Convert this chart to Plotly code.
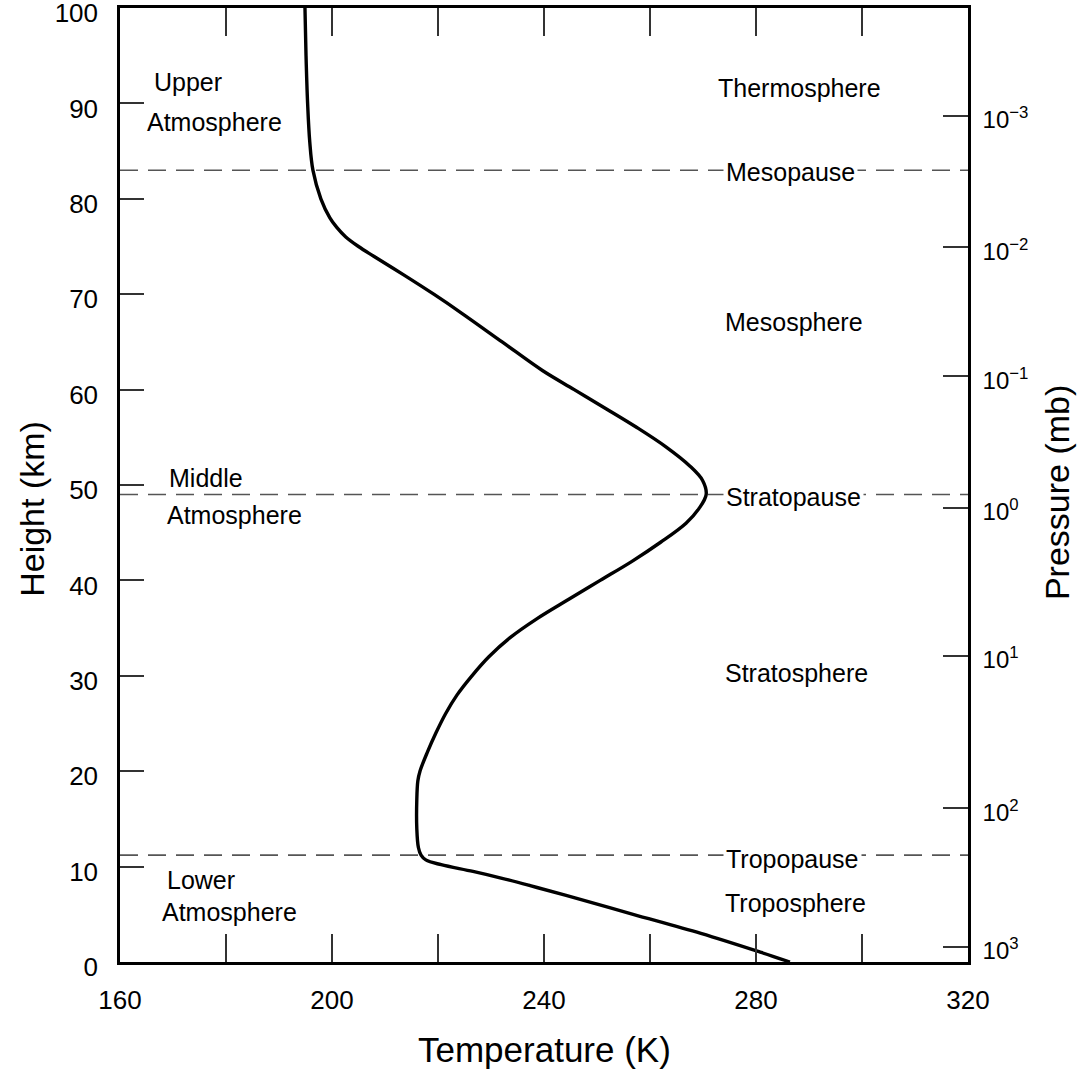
import plotly.graph_objects as go

# ---- data ----
altitude_km = [0, 1, 3, 5, 7, 8, 8.8, 9.5, 10.2, 10.7, 11.2, 12, 14, 17, 19, 20, 22, 24, 26, 28,
               30, 32, 34, 36, 38, 40, 42, 44, 46, 47.5, 49, 50.5, 52, 54, 56, 58, 60, 62, 65,
               68, 70, 72, 74, 75, 76, 77, 78, 80, 83, 86, 90, 95, 100]
temperature_K = [286.4, 281.0, 269.6, 256.8, 244.0, 237.4, 231.9, 226.6, 220.6, 217.7, 216.8,
                 216.3, 216.0, 216.0, 216.2, 216.6, 218.0, 219.6, 221.4, 223.6, 226.4, 229.6,
                 233.6, 238.7, 244.6, 250.6, 256.6, 262.0, 266.8, 269.2, 270.6, 269.9, 267.5,
                 263.0, 257.6, 251.7, 245.7, 239.7, 232.1, 224.5, 219.2, 213.6, 207.8, 205.0,
                 202.6, 200.9, 199.6, 197.9, 196.4, 195.8, 195.4, 195.1, 194.9]

boundary_names = ["Mesopause", "Stratopause", "Tropopause"]
boundary_km = [83, 49, 11.2]
boundary_label_y = [82.8, 48.7, 10.8]

layer_names = ["Thermosphere", "Mesosphere", "Stratosphere", "Troposphere"]
layer_label_x = [272.5, 273.8, 273.8, 273.8]
layer_label_y = [91.6, 67.1, 30.3, 6.2]

region_lines = ["Upper", "Atmosphere", "Middle", "Atmosphere", "Lower", "Atmosphere"]
region_x = [166.0, 164.7, 168.9, 168.5, 168.5, 167.6]
region_y = [92.2, 88.05, 50.7, 46.9, 8.6, 5.25]

temp_ticks = [160, 180, 200, 220, 240, 260, 280, 300, 320]
temp_tick_labels = ["160", "", "200", "", "240", "", "280", "", "320"]
height_ticks = [0, 10, 20, 30, 40, 50, 60, 70, 80, 90, 100]

pressure_tick_km = [88.7, 74.9, 61.4, 47.6, 32.1, 16.1, 1.6]
pressure_exponents = ["−3", "−2", "−1", "0", "1", "2", "3"]

FONT = "Liberation Sans, Arial, Helvetica, sans-serif"

fig = go.Figure()

# dashed boundary lines
for h in boundary_km:
    fig.add_trace(go.Scatter(x=[temp_ticks[0], temp_ticks[-1]], y=[h, h], mode="lines",
                             line=dict(color="#555555", width=1.6, dash="18px,10px"),
                             hoverinfo="skip", showlegend=False))

# temperature profile
fig.add_trace(go.Scatter(x=temperature_K, y=altitude_km, mode="lines",
                         line=dict(color="black", width=3.4, shape="spline", smoothing=1.0),
                         showlegend=False))

# invisible trace for the pressure axis
fig.add_trace(go.Scatter(x=[temp_ticks[0]], y=[0], yaxis="y2", mode="markers",
                         marker=dict(opacity=0), hoverinfo="skip", showlegend=False))

annotations = []
for name, y in zip(boundary_names, boundary_label_y):
    annotations.append(dict(x=273.8, y=y, xref="x", yref="y", text=name, showarrow=False,
                            xanchor="left", yanchor="middle", bgcolor="white", borderpad=2,
                            font=dict(family=FONT, size=25, color="black")))
for name, x, y in zip(layer_names, layer_label_x, layer_label_y):
    annotations.append(dict(x=x, y=y, xref="x", yref="y", text=name, showarrow=False,
                            xanchor="left", yanchor="middle",
                            font=dict(family=FONT, size=25, color="black")))
for name, x, y in zip(region_lines, region_x, region_y):
    annotations.append(dict(x=x, y=y, xref="x", yref="y", text=name, showarrow=False,
                            xanchor="left", yanchor="middle",
                            font=dict(family=FONT, size=25, color="black")))

# axis titles
annotations.append(dict(x=0.5, y=-0.0922, xref="paper", yref="paper", text="Temperature (K)",
                        showarrow=False, xanchor="center", yanchor="middle",
                        font=dict(family=FONT, size=35, color="black")))
annotations.append(dict(x=-0.1038, y=0.475, xref="paper", yref="paper", text="Height (km)",
                        showarrow=False, xanchor="center", yanchor="middle", textangle=-90,
                        font=dict(family=FONT, size=34, color="black")))
annotations.append(dict(x=1.105, y=0.4916, xref="paper", yref="paper", text="Pressure (mb)",
                        showarrow=False, xanchor="center", yanchor="middle", textangle=-90,
                        font=dict(family=FONT, size=34, color="black")))

fig.update_layout(
    width=1081, height=1076,
    margin=dict(l=120, r=113, t=8, b=114, autoexpand=False),
    paper_bgcolor="white", plot_bgcolor="white",
    font=dict(family=FONT, color="black"),
    annotations=annotations,
    xaxis=dict(range=[160, 320], tickvals=temp_ticks, ticktext=temp_tick_labels,
               ticks="inside", ticklen=28, tickwidth=1.5, tickcolor="#333333",
               showline=True, linecolor="black", linewidth=2.5, mirror="ticks",
               showgrid=False, zeroline=False, ticklabelstandoff=13,
               ticklabeloverflow="allow", automargin=False,
               tickfont=dict(family=FONT, size=26, color="black")),
    yaxis=dict(range=[0, 100], tickvals=height_ticks,
               ticks="inside", ticklen=24, tickwidth=1.5, tickcolor="#333333",
               showline=True, linecolor="black", linewidth=2.5, mirror=True,
               showgrid=False, zeroline=False, ticklabelstandoff=14, ticklabelshift=5,
               ticklabeloverflow="allow", automargin=False,
               tickfont=dict(family=FONT, size=26, color="black")),
    yaxis2=dict(range=[0, 100], overlaying="y", side="right", tickvals=pressure_tick_km,
                ticktext=["10<sup>%s</sup>" % e for e in pressure_exponents],
                ticks="inside", ticklen=25, tickwidth=1.5, tickcolor="#333333",
                showline=True, linecolor="black", linewidth=2.5,
                showgrid=False, zeroline=False, ticklabelstandoff=7, ticklabelshift=4,
                ticklabeloverflow="allow", automargin=False,
                tickfont=dict(family=FONT, size=24, color="black")),
)

fig.write_html("out.html", config={"displayModeBar": False},
               post_script="document.body.style.margin='0px';")
